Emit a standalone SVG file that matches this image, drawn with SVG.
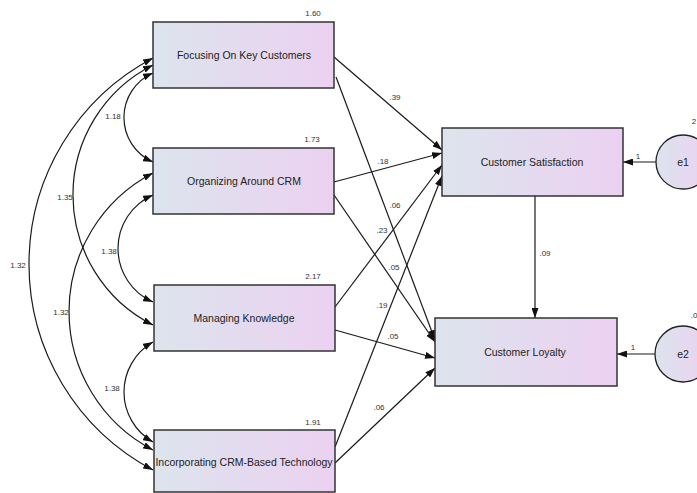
<svg xmlns="http://www.w3.org/2000/svg" width="697" height="493" viewBox="0 0 697 493">
<defs>
<linearGradient id="g" x1="0" y1="0" x2="1" y2="0">
<stop offset="0" stop-color="#dde4ed"/>
<stop offset="1" stop-color="#ebd1f1"/>
</linearGradient>
<marker id="ah" viewBox="0 0 10 7" refX="10" refY="3.5" markerWidth="10" markerHeight="7" markerUnits="userSpaceOnUse" orient="auto-start-reverse">
<path d="M0,0 L10,3.5 L0,7 z" fill="#111"/>
</marker>
<style>
.box{fill:url(#g);stroke:#333;stroke-width:1.5}
.lbl{font-family:"Liberation Sans",Arial,sans-serif;font-size:10.5px;fill:#222;text-anchor:middle}
.num{font-family:"Liberation Sans",Arial,sans-serif;font-size:8px;fill:#333;text-anchor:middle}
.c{fill:none;stroke:#1a1a1a;stroke-width:1.2}
.one{marker-end:url(#ah)}
.two{marker-start:url(#ah);marker-end:url(#ah)}
</style>
</defs>
<rect width="697" height="493" fill="#fff"/>

<g id="connectors">
<path class="c one" d="M334,57 L442,150"/>
<path class="c one" d="M336,77 L435,340"/>
<path class="c one" d="M334,182 L442,153"/>
<path class="c one" d="M334,195 L435,342"/>
<path class="c one" d="M335,307 L442,165"/>
<path class="c one" d="M335,330 L435,358"/>
<path class="c one" d="M335,447 L442,176"/>
<path class="c one" d="M335,463 L435,368"/>
<path class="c one" d="M535,196 L535,318"/>
<path class="c one" d="M656,162 L623,162"/>
<path class="c one" d="M655,354 L617,354"/>
<path class="c two" d="M153,58 A233.1,233.1 0 0 0 153,470"/>
<path class="c two" d="M153,65 A145.6,145.6 0 0 0 153,325"/>
<path class="c two" d="M153,173 A156.2,156.2 0 0 0 153,450"/>
<path class="c two" d="M153,73 A48.6,48.6 0 0 0 153,162"/>
<path class="c two" d="M153,195 A58.4,58.4 0 0 0 153,302"/>
<path class="c two" d="M153,342 A57.6,57.6 0 0 0 153,442"/>
<text class="num" x="395" y="100">.39</text>
<text class="num" x="383" y="164">.18</text>
<text class="num" x="395" y="208">.06</text>
<text class="num" x="382" y="233">.23</text>
<text class="num" x="394" y="270">.05</text>
<text class="num" x="382" y="308">.19</text>
<text class="num" x="393" y="339">.05</text>
<text class="num" x="379" y="410">.06</text>
<text class="num" x="545" y="256">.09</text>
<text class="num" x="638" y="159">1</text>
<text class="num" x="633" y="350">1</text>
<text class="num" x="113" y="119">1.18</text>
<text class="num" x="65" y="200">1.35</text>
<text class="num" x="109" y="254">1.38</text>
<text class="num" x="18" y="268">1.32</text>
<text class="num" x="61" y="315">1.32</text>
<text class="num" x="112" y="391">1.38</text>
</g>

<g id="focusing">
<rect class="box" x="153" y="22" width="181" height="66"/>
<text class="lbl" x="244" y="59">Focusing On Key Customers</text>
<text class="num" x="313" y="16">1.60</text>
</g>
<g id="organizing">
<rect class="box" x="153" y="148" width="181" height="66"/>
<text class="lbl" x="244" y="185">Organizing Around CRM</text>
<text class="num" x="312" y="142">1.73</text>
</g>
<g id="managing">
<rect class="box" x="154" y="285" width="181" height="66"/>
<text class="lbl" x="244" y="322">Managing Knowledge</text>
<text class="num" x="313" y="279">2.17</text>
</g>
<g id="incorporating">
<rect class="box" x="154" y="430" width="181" height="62"/>
<text class="lbl" x="244" y="466">Incorporating CRM-Based Technology</text>
<text class="num" x="313" y="425">1.91</text>
</g>
<g id="satisfaction">
<rect class="box" x="442" y="128" width="181" height="68"/>
<text class="lbl" x="532" y="166">Customer Satisfaction</text>
</g>
<g id="loyalty">
<rect class="box" x="435" y="318" width="182" height="68"/>
<text class="lbl" x="525" y="356">Customer Loyalty</text>
</g>
<g id="e1">
<circle cx="683" cy="162" r="27" fill="url(#g)" stroke="#222" stroke-width="1.3"/>
<text class="lbl" x="683" y="166">e1</text>
<text class="num" x="694" y="124">2</text>
</g>
<g id="e2">
<circle cx="683" cy="354" r="28" fill="url(#g)" stroke="#222" stroke-width="1.3"/>
<text class="lbl" x="683" y="358">e2</text>
<text class="num" x="694" y="318">.0</text>
</g>
</svg>
